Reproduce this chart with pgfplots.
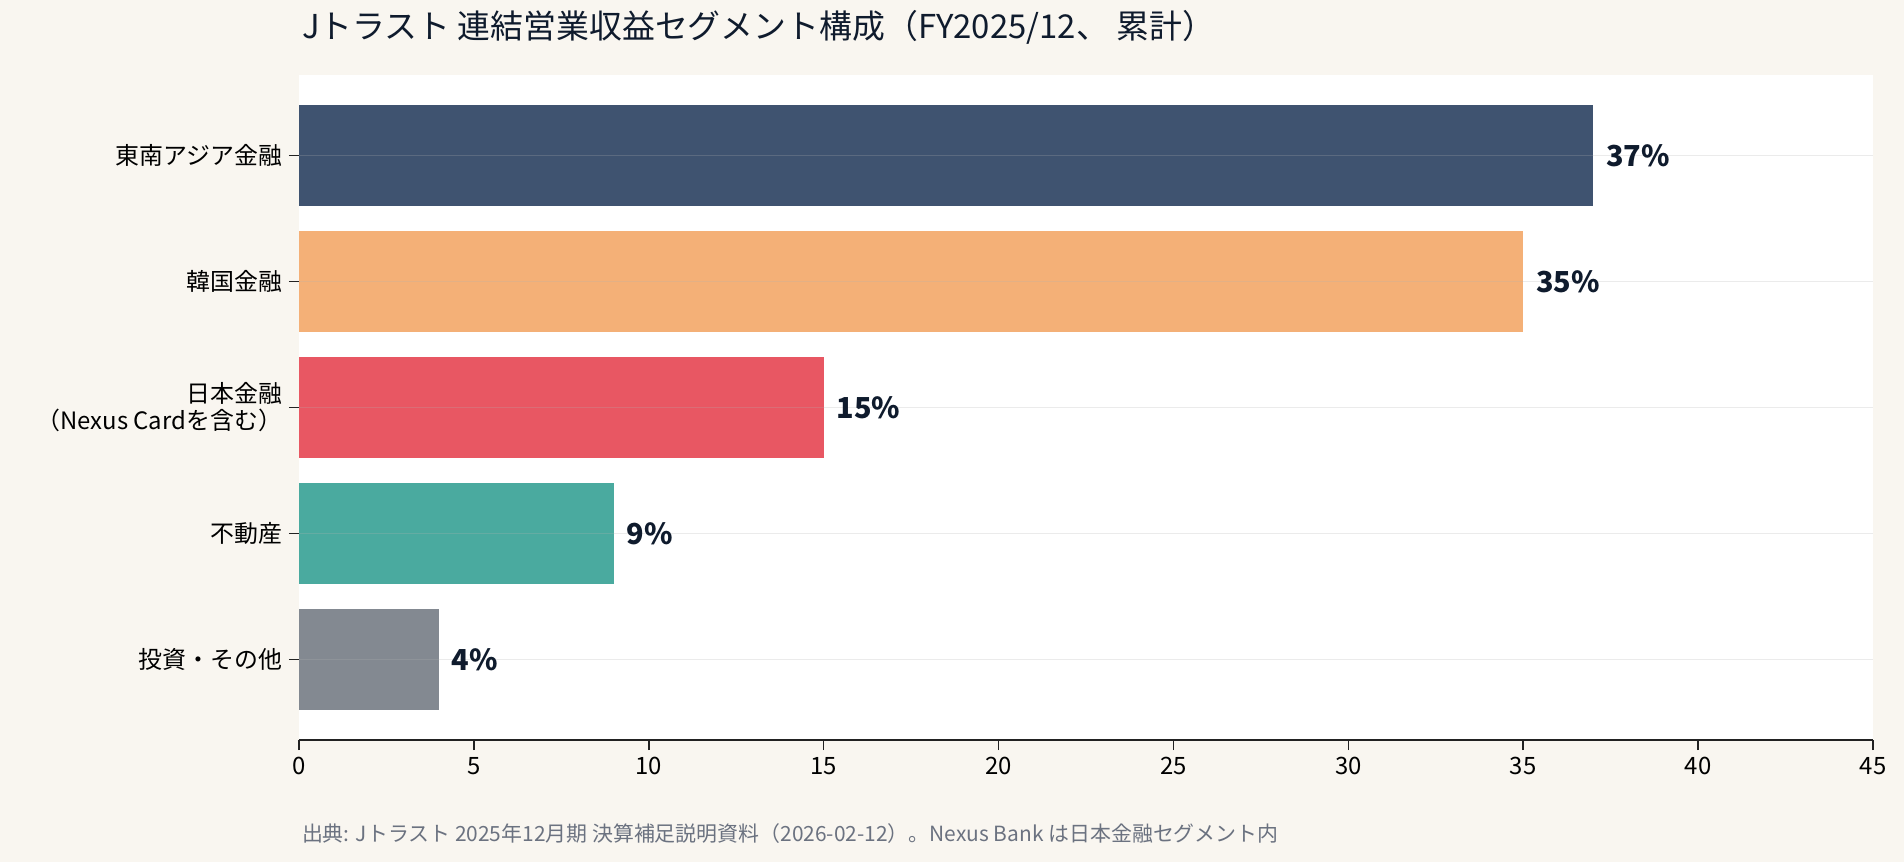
\documentclass[border=0pt]{standalone}
\usepackage{pgfplots}
\pgfplotsset{compat=1.18}
\usepackage{fontspec}
\setmainfont{Noto Sans CJK JP}
\definecolor{bgc}{HTML}{F9F6F0}
\definecolor{c1}{HTML}{3F5370}
\definecolor{c2}{HTML}{F4B077}
\definecolor{c3}{HTML}{E85763}
\definecolor{c4}{HTML}{4AAA9F}
\definecolor{c5}{HTML}{838991}
\definecolor{lbl}{HTML}{0F1B2D}
\definecolor{foot}{HTML}{6B7280}
\definecolor{axl}{HTML}{222222}
\begin{document}
\begin{tikzpicture}
\fill[bgc] (-149.5bp,-61bp) rectangle (802.5bp,370bp);
\useasboundingbox (-149.5bp,-61bp) rectangle (802.5bp,370bp);
\begin{axis}[
  at={(0,0)}, anchor=south west,
  scale only axis,
  width=787bp, height=332.5bp,
  xmin=0, xmax=45,
  ymin=-0.64, ymax=4.64,
  y dir=reverse,
  xbar, bar width=0.8, bar shift=0pt,
  axis background/.style={fill=white},
  axis lines*=left,
  x axis line style={axl, line width=0.9pt},
  y axis line style={draw=none},
  xtick={0,5,...,45},
  ytick={0,1,2,3,4},
  yticklabels={東南アジア金融, 韓国金融, {日本金融\\（Nexus Cardを含む）}, 不動産, 投資・その他},
  yticklabel style={align=right, font=\fontsize{12}{13.5}\selectfont, text=black},
  xticklabel style={font=\fontsize{12}{14}\selectfont, text=black},
  /pgf/number format/assume math mode=true,
  tick align=outside,
  major tick length=5bp,
  tick style={axl, line width=0.8pt},
  ymajorgrids,
  grid style={color=gray!60, opacity=0.25, line width=0.6pt},
  axis on top,
  nodes near coords={\pgfmathprintnumber{\pgfplotspointmeta}\%},
  point meta=x,
  every node near coord/.style={anchor=west, xshift=3bp, font=\fontsize{14.5}{16}\selectfont\bfseries, text=lbl},
  clip=false,
]
\addplot[draw=none, fill=c1] coordinates {(37,0)};
\addplot[draw=none, fill=c2] coordinates {(35,1)};
\addplot[draw=none, fill=c3] coordinates {(15,2)};
\addplot[draw=none, fill=c4] coordinates {(9,3)};
\addplot[draw=none, fill=c5] coordinates {(4,4)};
\end{axis}
\node[anchor=west, text=lbl, font=\fontsize{16.5}{18}\selectfont] at (-2bp,356.5bp) {Jトラスト 連結営業収益セグメント構成（FY2025/12、 累計）};
\node[anchor=west, text=foot, font=\fontsize{10.5}{12}\selectfont] at (-2bp,-47bp) {出典: Jトラスト 2025年12月期 決算補足説明資料（2026-02-12）。Nexus Bank は日本金融セグメント内};
\end{tikzpicture}
\end{document}
